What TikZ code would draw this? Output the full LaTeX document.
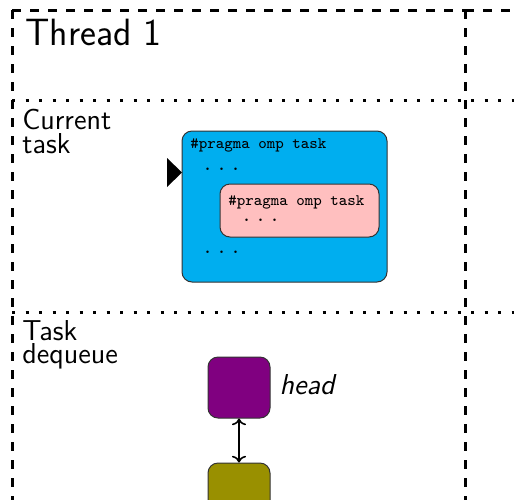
\documentclass[tikz,border=0pt]{standalone}
\usepackage{xcolor}
\usepackage{tikz}
\usetikzlibrary{
  arrows.meta,
  positioning
}
\definecolor{taskblue}{HTML}{00AEEF}
\definecolor{taskpink}{HTML}{FFBFBF}
\definecolor{headcol}{HTML}{800080}
\definecolor{nextcol}{HTML}{999000}
\definecolor{edgegrey}{HTML}{333333}
\tikzset{
  threadline/.style={
    line width=1.5pt, dash pattern=on 4.5pt off 4.5pt
  },
  divider/.style={
    line width=1.5pt, dash pattern=on 1.5pt off 5.25pt
  },
  taskbox/.style={
    rectangle, rounded corners=5pt, draw=edgegrey, fill=#1,
    line width=0.5pt, inner sep=0pt
  },
  dequeitem/.style={
    rectangle, rounded corners=5pt, draw=edgegrey, fill=#1,
    line width=0.5pt, minimum width=31pt, minimum height=30.5pt
  },
  codeline/.style={
    font=\footnotesize\ttfamily, inner sep=0pt, anchor=base west
  },
  codedotline/.style={
    codeline, text height=1.5pt, text depth=0pt
  },
  rowlabel/.style={
    font=\sffamily\fontsize{14.4}{#1}\selectfont, align=left,
    inner sep=0pt, anchor=base west
  },
}
\newcommand{\codedots}{{\normalsize.\kern1.75pt.\kern1.75pt.}}

\begin{document}
\begin{tikzpicture}[x=0.5pt, y=-0.5pt]

  \useasboundingbox (0,0) rectangle (514,499);
  \clip (0,0) rectangle (514,499);

  %% Thread frames and row dividers
  \draw[threadline] (12,10) -- (465,10);
  \draw[threadline] (12,10) -- (12,540);
  \draw[threadline] (465,10) -- (465,540);
  \draw[threadline] (465,10) -- (900,10);
  \draw[divider] (12,100) -- (900,100);
  \draw[divider] (12,312) -- (900,312);

  %% Row titles (base anchor = last line)
  \node[rowlabel=22, font=\sffamily\fontsize{19}{22}\selectfont] (thread) at (25,45) {Thread 1};
  \node[rowlabel=12] (current) at (22,153) {Current\\task};
  \node[rowlabel=10] (dequeue) at (22,363) {Task\\dequeue};

  %% Current task: outer and nested task regions
  \node[taskbox=taskblue, minimum width=102.5pt, minimum height=75.5pt] (outer) at (284.5,206.5) {};
  \node[taskbox=taskpink, minimum width=79.5pt, minimum height=26.5pt] (inner) at (299.5,210.5) {};

  \node[codeline] (pragma1) at (190,148) {\#pragma omp task};
  \node[codedotline] (dots1) at (202,170) {\codedots};
  \node[codeline] (pragma2) at (228,205) {\#pragma omp task};
  \node[codedotline] (dots2) at (241,221) {\codedots};
  \node[codedotline] (dots3) at (202,253) {\codedots};

  %% execution marker
  \fill (167,158) -- (182,172.5) -- (167,187) -- cycle;

  %% Task dequeue
  \node[dequeitem=headcol] (head) at (239,387.5) {};
  \node[dequeitem=nextcol] (next) at (239,493.5) {};
  \node[right=1pt of head, font=\sffamily\itshape\fontsize{14.4}{17}\selectfont, yshift=1.5pt] (headlbl) {head};

  \draw[<->, thick] (head) -- (next);

\end{tikzpicture}
\end{document}
